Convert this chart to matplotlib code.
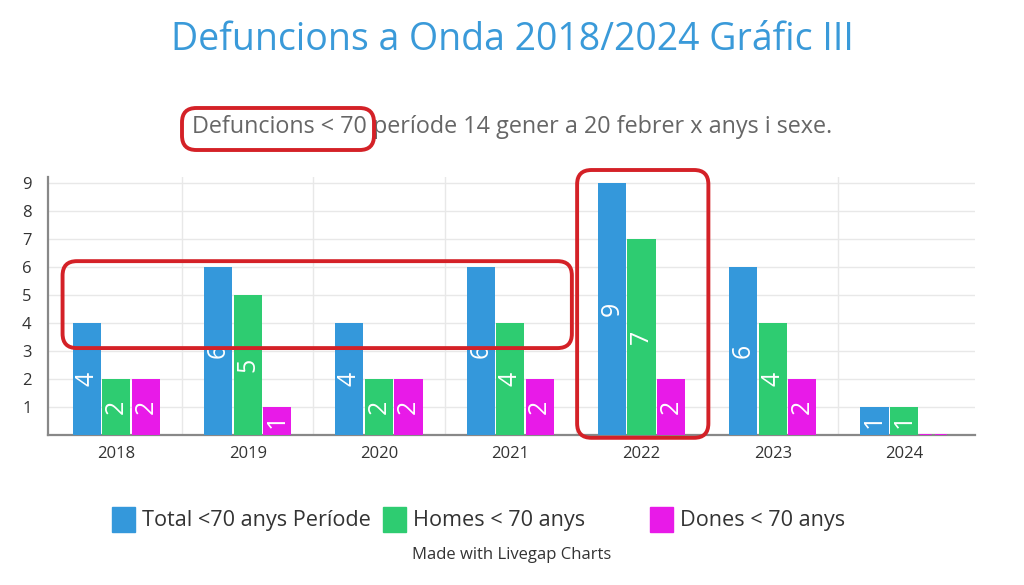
import numpy as np
import matplotlib
matplotlib.use("Agg")
import matplotlib.pyplot as plt
from matplotlib.patches import FancyBboxPatch, Rectangle

# data
years = ["2018", "2019", "2020", "2021", "2022", "2023", "2024"]
total = [4, 6, 4, 6, 9, 6, 1]
homes = [2, 5, 2, 4, 7, 4, 1]
dones = [2, 1, 2, 2, 2, 2, 0]
series_names = ["Total <70 anys Període", "Homes < 70 anys", "Dones < 70 anys"]
colors = ["#3498DB", "#2ECC71", "#E81AE8"]

plt.rcParams['font.family'] = ['Open Sans', 'DejaVu Sans']

fig = plt.figure(figsize=(10.24, 5.85), dpi=100)
ax = fig.add_axes([0.047, 0.2564, 0.905, 0.441])

x = np.arange(len(years))
offsets = [-0.225, 0.0, 0.225]
width = 0.215

for vals, off, col in zip([total, homes, dones], offsets, colors):
    for xi, v in zip(x, vals):
        if v == 0:
            ax.bar(xi + off, 0.0, width, color="none", edgecolor=col,
                   linestyle=(0, (3, 2.5)), linewidth=2, zorder=3)
            continue
        ax.bar(xi + off, v, width, color=col, zorder=3)
        ax.text(xi + off, v / 2, str(v), rotation=90, ha="center", va="center",
                color="white", fontsize=18, zorder=4)

ax.set_xlim(-0.52, 6.54)
ax.set_ylim(0, 9.2)
ax.set_yticks(range(1, 10))
ax.set_xticks(x)
ax.set_xticklabels(years)
ax.set_xticks(np.arange(0.5, 6.5, 1), minor=True)
ax.tick_params(axis="both", which="both", length=0, labelsize=12, colors="#333333")
ax.tick_params(axis="x", pad=8)
ax.tick_params(axis="y", pad=12)
ax.grid(True, axis="y", color="#e8e8e8", linewidth=1, zorder=0)
ax.grid(True, axis="x", which="minor", color="#e8e8e8", linewidth=1, zorder=0)
ax.grid(False, axis="x", which="major")
for s in ["top", "right"]:
    ax.spines[s].set_visible(False)
for s in ["left", "bottom"]:
    ax.spines[s].set_color("#888888")
    ax.spines[s].set_linewidth(1.6)

fig.text(0.5, 0.932, "Defuncions a Onda 2018/2024 Gráfic III", ha="center", va="center",
         color="#3A9AD9", fontsize=27)
fig.text(0.5, 0.783, "Defuncions < 70 període 14 gener a 20 febrer x anys i sexe.",
         ha="center", va="center", color="#666666", fontsize=16.8)
fig.text(0.5, 0.051, "Made with Livegap Charts", ha="center", va="center",
         color="#333333", fontsize=12)

# legend, laid out like the livegap one
leg_x = [112, 383, 650]
for lx, name, col in zip(leg_x, series_names, colors):
    fig.patches.append(Rectangle((lx / 1024, 0.090), 23 / 1024, 0.043,
                                 transform=fig.transFigure, color=col))
    fig.text((lx + 30) / 1024, 0.111, name, ha="left", va="center",
             color="#333333", fontsize=15.6)

# red highlight boxes
fig.canvas.draw()
to_fig = ax.transData + fig.transFigure.inverted()
aspect = 1024 / 585


def red_box(x0, y0, x1, y1):
    box = FancyBboxPatch((x0, y0), x1 - x0, y1 - y0,
                         boxstyle="round,pad=0,rounding_size=0.014",
                         mutation_aspect=aspect, transform=fig.transFigure,
                         facecolor="none", edgecolor="#D42127", linewidth=2.8,
                         zorder=10)
    fig.patches.append(box)


for (dx0, dy0, dx1, dy1) in [(-0.41, 3.1, 3.47, 6.2), (3.51, -0.1, 4.51, 9.45)]:
    (fx0, fy0), (fx1, fy1) = to_fig.transform([(dx0, dy0), (dx1, dy1)])
    red_box(fx0, fy0, fx1, fy1)
red_box(182 / 1024, 1 - 150 / 585, 374 / 1024, 1 - 108 / 585)

fig.savefig("out.png", dpi=100)
